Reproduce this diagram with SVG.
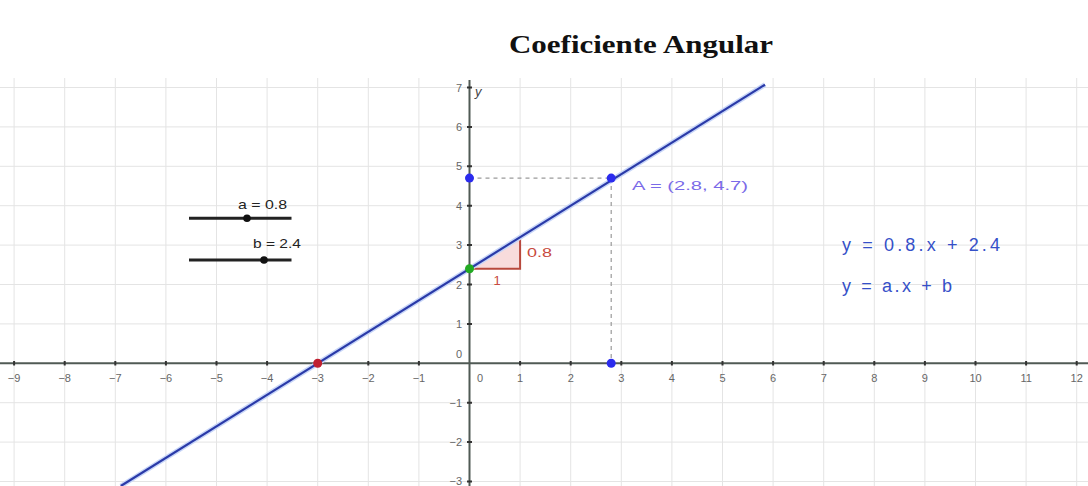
<svg xmlns="http://www.w3.org/2000/svg" width="1088" height="486" viewBox="0 0 1088 486">
<style>
.grid line{stroke:#e4e4e4;stroke-width:1}
.axis{stroke:#505a55;stroke-width:2}
.tick{stroke:#333;stroke-width:2}
.tl{font-family:"Liberation Sans",Arial,sans-serif;font-size:11px;fill:#666}
.dash{stroke:#9a9a9a;stroke-width:1.2;stroke-dasharray:4 4;fill:none}
.slider{stroke:#222;stroke-width:3}
.sl{font-family:"Liberation Sans",Arial,sans-serif;font-size:13px;fill:#222}
.eq{font-family:"Liberation Sans",Arial,sans-serif;font-size:18px;fill:#3550c8}
</style>
<rect width="1088" height="486" fill="#ffffff"/>
<text x="641" y="53" text-anchor="middle" font-family="Liberation Serif,Times New Roman,serif" font-size="26" font-weight="bold" fill="#111" textLength="264" lengthAdjust="spacingAndGlyphs">Coeficiente Angular</text>
<g class="grid">
<line x1="14.1" y1="78" x2="14.1" y2="486"/><line x1="64.7" y1="78" x2="64.7" y2="486"/><line x1="115.3" y1="78" x2="115.3" y2="486"/><line x1="165.9" y1="78" x2="165.9" y2="486"/><line x1="216.5" y1="78" x2="216.5" y2="486"/><line x1="267.1" y1="78" x2="267.1" y2="486"/><line x1="317.7" y1="78" x2="317.7" y2="486"/><line x1="368.3" y1="78" x2="368.3" y2="486"/><line x1="418.9" y1="78" x2="418.9" y2="486"/><line x1="520.1" y1="78" x2="520.1" y2="486"/><line x1="570.7" y1="78" x2="570.7" y2="486"/><line x1="621.3" y1="78" x2="621.3" y2="486"/><line x1="671.9" y1="78" x2="671.9" y2="486"/><line x1="722.5" y1="78" x2="722.5" y2="486"/><line x1="773.1" y1="78" x2="773.1" y2="486"/><line x1="823.7" y1="78" x2="823.7" y2="486"/><line x1="874.3" y1="78" x2="874.3" y2="486"/><line x1="924.9" y1="78" x2="924.9" y2="486"/><line x1="975.5" y1="78" x2="975.5" y2="486"/><line x1="1026.1" y1="78" x2="1026.1" y2="486"/><line x1="1076.7" y1="78" x2="1076.7" y2="486"/>
<line x1="0" y1="87.5" x2="1088" y2="87.5"/><line x1="0" y1="126.9" x2="1088" y2="126.9"/><line x1="0" y1="166.3" x2="1088" y2="166.3"/><line x1="0" y1="205.7" x2="1088" y2="205.7"/><line x1="0" y1="245.1" x2="1088" y2="245.1"/><line x1="0" y1="284.5" x2="1088" y2="284.5"/><line x1="0" y1="323.9" x2="1088" y2="323.9"/><line x1="0" y1="402.7" x2="1088" y2="402.7"/><line x1="0" y1="442.1" x2="1088" y2="442.1"/><line x1="0" y1="481.5" x2="1088" y2="481.5"/>
</g>
<g id="axes">
<line class="axis" x1="0" y1="363.3" x2="1088" y2="363.3"/>
<line class="axis" x1="469.5" y1="80" x2="469.5" y2="486"/>
<path class="tick" d="M14.1 361v4.6M64.7 361v4.6M115.3 361v4.6M165.9 361v4.6M216.5 361v4.6M267.1 361v4.6M317.7 361v4.6M368.3 361v4.6M418.9 361v4.6M520.1 361v4.6M570.7 361v4.6M621.3 361v4.6M671.9 361v4.6M722.5 361v4.6M773.1 361v4.6M823.7 361v4.6M874.3 361v4.6M924.9 361v4.6M975.5 361v4.6M1026.1 361v4.6M1076.7 361v4.6"/>
<path class="tick" d="M467 87.5h5M467 126.9h5M467 166.3h5M467 205.7h5M467 245.1h5M467 284.5h5M467 323.9h5M467 402.7h5M467 442.1h5M467 481.5h5"/>
<g class="tl" text-anchor="middle">
<text x="14.1" y="382">−9</text><text x="64.7" y="382">−8</text><text x="115.3" y="382">−7</text><text x="165.9" y="382">−6</text><text x="216.5" y="382">−5</text><text x="267.1" y="382">−4</text><text x="317.7" y="382">−3</text><text x="368.3" y="382">−2</text><text x="418.9" y="382">−1</text><text x="480" y="382">0</text><text x="520.1" y="382">1</text><text x="570.7" y="382">2</text><text x="621.3" y="382">3</text><text x="671.9" y="382">4</text><text x="722.5" y="382">5</text><text x="773.1" y="382">6</text><text x="823.7" y="382">7</text><text x="874.3" y="382">8</text><text x="924.9" y="382">9</text><text x="975.5" y="382">10</text><text x="1026.1" y="382">11</text><text x="1076.7" y="382">12</text>
</g>
<g class="tl" text-anchor="end">
<text x="462" y="91.5">7</text><text x="462" y="130.9">6</text><text x="462" y="170.3">5</text><text x="462" y="209.7">4</text><text x="462" y="249.1">3</text><text x="462" y="288.5">2</text><text x="462" y="327.9">1</text><text x="462" y="358">0</text><text x="462" y="406.7">−1</text><text x="462" y="446.1">−2</text><text x="462" y="485">−3</text>
</g>
<text x="475" y="96" font-family="Liberation Sans,Arial,sans-serif" font-size="13" font-style="italic" fill="#444">y</text>
</g>
<g id="connectors">
<line class="dash" x1="469.5" y1="178.1" x2="611.2" y2="178.1"/>
<line class="dash" x1="611.2" y1="178.1" x2="611.2" y2="363.3"/>
</g>
<g id="slope-triangle">
<path d="M469.5 268.7H520.1V237.2Z" fill="#f8dcdc" stroke="none"/>
<path d="M469.5 268.7H520.1V237.2" fill="none" stroke="#b8483c" stroke-width="2"/>
<text x="527" y="257" font-family="Liberation Sans,Arial,sans-serif" font-size="13" fill="#c84a40" textLength="25" lengthAdjust="spacingAndGlyphs">0.8</text>
<text x="497" y="285" font-family="Liberation Sans,Arial,sans-serif" font-size="13" fill="#c84a40" text-anchor="middle">1</text>
</g>
<g id="line-f">
<line x1="120.8" y1="486" x2="765" y2="84.7" stroke="#c8d6f8" stroke-width="5"/>
<line x1="120.8" y1="486" x2="765" y2="84.7" stroke="#2a3aa8" stroke-width="2.2"/>
</g>
<g id="point-A">
<circle cx="611.2" cy="178.1" r="4.5" fill="#2b2bee"/>
<text x="632" y="190" font-family="Liberation Sans,Arial,sans-serif" font-size="13" fill="#7a6ae8" textLength="116" lengthAdjust="spacingAndGlyphs">A = (2.8, 4.7)</text>
</g>
<g id="point-Ay"><circle cx="469.5" cy="178.1" r="4.5" fill="#2b2bee"/></g>
<g id="point-Ax"><circle cx="611.2" cy="363.3" r="4.5" fill="#2b2bee"/></g>
<g id="point-b"><circle cx="469.5" cy="268.7" r="4.5" fill="#22aa22"/></g>
<g id="point-root"><circle cx="317.7" cy="363.3" r="4.5" fill="#c02030"/></g>
<g id="slider-a">
<line class="slider" x1="189" y1="218.3" x2="291.5" y2="218.3"/>
<circle cx="247" cy="218.3" r="3.8" fill="#111"/>
<text class="sl" x="238" y="209" textLength="49" lengthAdjust="spacingAndGlyphs">a = 0.8</text>
</g>
<g id="slider-b">
<line class="slider" x1="189" y1="260" x2="291.5" y2="260" stroke-width="2.5"/>
<circle cx="264" cy="260" r="3.8" fill="#111"/>
<text class="sl" x="253" y="248" textLength="48" lengthAdjust="spacingAndGlyphs">b = 2.4</text>
</g>
<g id="equations">
<text class="eq" x="842" y="251" textLength="158" lengthAdjust="spacing">y = 0.8.x + 2.4</text>
<text class="eq" x="842" y="292" textLength="110" lengthAdjust="spacing">y = a.x + b</text>
</g>
</svg>
